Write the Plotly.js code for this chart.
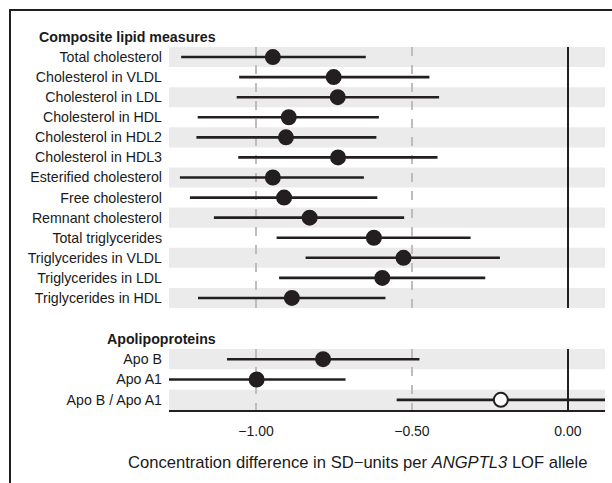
<!DOCTYPE html>
<html>
<head>
<meta charset="utf-8">
<script src="https://cdn.plot.ly/plotly-3.0.1.min.js"></script>
<style>
  html, body { margin: 0; padding: 0; background: #fff; }
  #wrap { position: relative; width: 612px; height: 483px; overflow: hidden; }
  #chart { position: absolute; left: 0; top: 0; width: 612px; height: 483px; }
  #frame { position: absolute; left: 9px; top: 9px; width: 620px; height: 500px;
           border-top: 2px solid #231f20; border-left: 2px solid #231f20; pointer-events: none; }
</style>
</head>
<body>
<div id="wrap">
  <div id="chart"></div>
  <div id="frame"></div>
</div>
<script>
// ---- Data ----
const heading1 = "Composite lipid measures";
const labels1 = [
  "Total cholesterol", "Cholesterol in VLDL", "Cholesterol in LDL", "Cholesterol in HDL",
  "Cholesterol in HDL2", "Cholesterol in HDL3", "Esterified cholesterol", "Free cholesterol",
  "Remnant cholesterol", "Total triglycerides", "Triglycerides in VLDL", "Triglycerides in LDL",
  "Triglycerides in HDL"
];
const est1 = [-0.946, -0.751, -0.738, -0.895, -0.904, -0.737, -0.946, -0.910, -0.828, -0.622, -0.527, -0.595, -0.885];
const lo1  = [-1.240, -1.054, -1.062, -1.187, -1.191, -1.057, -1.244, -1.212, -1.135, -0.934, -0.841, -0.926, -1.186];
const hi1  = [-0.648, -0.444, -0.413, -0.606, -0.614, -0.418, -0.654, -0.611, -0.525, -0.312, -0.218, -0.265, -0.585];

const heading2 = "Apolipoproteins";
const labels2 = ["Apo B", "Apo A1", "Apo B / Apo A1"];
const est2 = [-0.785, -0.998, -0.215];
const lo2  = [-1.093, -1.283, -0.549];
const hi2  = [-0.476, -0.713, 0.119];
const filled2 = [true, true, false];

const xTickVals = [-1.0, -0.5, 0.0];
const xTickText = ["\u22121.00", "\u22120.50", "0.00"];
const xTitle = "Concentration difference in SD\u2212units per <i>ANGPTL3</i> LOF allele";

// ---- Styling ----
const ink = "#231f20";
const font = "Liberation Sans, Arial, Helvetica, sans-serif";
const idx = a => a.map((_, i) => i);

function trace(est, lo, hi, yaxis, fills) {
  return {
    type: "scatter", mode: "markers",
    x: est, y: idx(est), xaxis: "x", yaxis: yaxis,
    hoverinfo: "skip", showlegend: false, cliponaxis: true,
    marker: {
      size: 14,
      color: fills ? fills.map(f => f ? ink : "#ffffff") : ink,
      line: { color: ink, width: 2 }
    },
    error_x: {
      type: "data", symmetric: false,
      array: hi.map((h, i) => h - est[i]),
      arrayminus: lo.map((l, i) => est[i] - l),
      color: ink, thickness: 2.6, width: 0
    }
  };
}

function bands(n, yref) {
  const s = [];
  for (let i = 0; i < n; i += 2) {
    s.push({ type: "rect", xref: "paper", yref: yref, x0: 0, x1: 1, y0: i - 0.5, y1: i + 0.5,
             fillcolor: "#ebebeb", line: { width: 0 }, layer: "below" });
  }
  return s;
}

const yCommon = {
  showgrid: false, zeroline: false, showline: false, ticks: "",
  tickfont: { family: font, size: 14.2, color: "#1a1a1a" },
  ticklabelstandoff: 6, fixedrange: true
};

const layout = {
  width: 612, height: 483,
  margin: { l: 169, r: 7, t: 47, b: 73 },
  paper_bgcolor: "#ffffff", plot_bgcolor: "rgba(0,0,0,0)",
  font: { family: font, color: "#1a1a1a" },
  showlegend: false,
  xaxis: {
    anchor: "y2", range: [-1.279, 0.119],
    tickvals: xTickVals, ticktext: xTickText,
    ticks: "", ticklabelstandoff: 7,
    tickfont: { family: font, size: 14, color: "#1a1a1a" },
    showgrid: true, gridcolor: "#bdbdbd", gridwidth: 1.3, griddash: "dash",
    zeroline: true, zerolinecolor: ink, zerolinewidth: 2,
    showline: true, linecolor: ink, linewidth: 2,
    fixedrange: true
  },
  yaxis: Object.assign({}, yCommon, {
    domain: [0.281, 1], range: [labels1.length - 0.5, -0.5],
    tickvals: idx(labels1), ticktext: labels1, anchor: "x"
  }),
  yaxis2: Object.assign({}, yCommon, {
    domain: [0, 0.168], range: [labels2.length - 0.5, -0.5],
    tickvals: idx(labels2), ticktext: labels2, anchor: "x"
  }),
  shapes: bands(labels1.length, "y").concat(bands(labels2.length, "y2")),
  annotations: [
    { text: "<b>" + heading1 + "</b>", xref: "paper", yref: "paper", x: 0.1124, y: 1.0275,
      xanchor: "right", yanchor: "middle", showarrow: false,
      font: { family: font, size: 14.2, color: "#1a1a1a" } },
    { text: "<b>" + heading2 + "</b>", xref: "paper", yref: "paper", x: 0.1124, y: 0.1956,
      xanchor: "right", yanchor: "middle", showarrow: false,
      font: { family: font, size: 14.2, color: "#1a1a1a" } },
    { text: xTitle, xref: "paper", yref: "paper", x: 0.4335, y: -0.146,
      xanchor: "center", yanchor: "middle", showarrow: false,
      font: { family: font, size: 16.6, color: "#1a1a1a" } }
  ]
};

Plotly.newPlot("chart", [
  trace(est1, lo1, hi1, "y", null),
  trace(est2, lo2, hi2, "y2", filled2)
], layout, { staticPlot: true, displayModeBar: false });
</script>
</body>
</html>
